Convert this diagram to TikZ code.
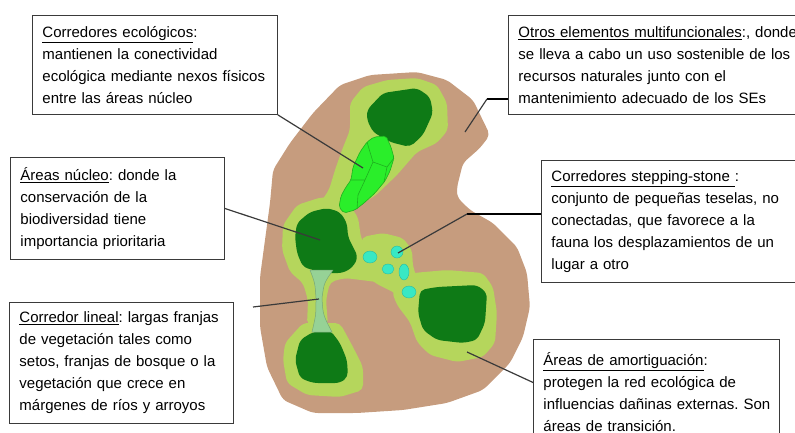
\documentclass[tikz,border=0pt]{standalone}
\usepackage{fontspec}
\setmainfont{Liberation Sans}
\frenchspacing

\definecolor{suelo}{HTML}{C69C7E}
\definecolor{amortig}{HTML}{B5D65C}
\definecolor{nucleo}{HTML}{0E7A16}
\definecolor{corredor}{HTML}{2AEE2A}
\definecolor{celda}{HTML}{1FB01F}
\definecolor{lineal}{HTML}{96D296}
\definecolor{piedra}{HTML}{38E8C4}
\definecolor{marco}{HTML}{3A3A3A}

\begin{document}
\begin{tikzpicture}[x=1pt,y=-1pt,
    infobox/.style={draw=marco,line width=0.9pt,fill=white,anchor=north west,
        align=left,inner xsep=10pt,inner ysep=0pt,
        font=\fontsize{15}{22}\selectfont},
    leader/.style={marco,line width=1.2pt},
    knee/.style={black,line width=2.6pt},
    patch/.style={rounded corners=5pt}]
    \useasboundingbox (0,0) rectangle (795,432);

    % Landscape outline
    \fill[suelo,patch]
        (340,85) -- (370,75) -- (417,72) -- (447,80) -- (473,100) -- (490,135)
        -- (480,148) -- (463,163) -- (457,187) -- (457,197) -- (470,210)
        -- (493,223) -- (517,247) -- (527,273) -- (530,307) -- (523,337)
        -- (510,363) -- (483,390) -- (447,403) -- (403,410) -- (357,413)
        -- (313,413) -- (283,400) -- (267,367) -- (260,327) -- (260,277)
        -- (265,240) -- (270,203) -- (273,170) -- (290,143) -- (313,113) -- cycle;

    % Buffer zones
    \fill[amortig,patch]
        (350,103) -- (363,87) -- (387,80) -- (417,78) -- (437,85) -- (447,103)
        -- (448,130) -- (437,143) -- (417,152) -- (410,160) -- (397,175)
        -- (375,196) -- (355,207) -- (343,214) -- (320,214) -- (307,210)
        -- (320,203) -- (329,190) -- (335,170) -- (342,150) -- (350,130) -- cycle;
    \fill[amortig,patch]
        (283,225) -- (297,205) -- (322,197) -- (347,202) -- (358,217)
        -- (361,238) -- (368,252) -- (372,262) -- (390,270) -- (395,285)
        -- (385,283) -- (345,278) -- (330,282) -- (326,300) -- (328,325)
        -- (307,325) -- (308,300) -- (303,283) -- (290,272) -- (282,250) -- cycle;
    \fill[amortig,patch]
        (285,343) -- (303,323) -- (340,323) -- (353,347) -- (363,367)
        -- (363,390) -- (340,397) -- (307,395) -- (287,383) -- (283,360) -- cycle;
    \fill[amortig,patch]
        (362,237) -- (383,233) -- (403,238) -- (412,250) -- (413,267)
        -- (418,280) -- (425,292) -- (405,305) -- (395,293) -- (375,283)
        -- (366,275) -- (360,250) -- cycle;
    \fill[amortig,patch]
        (413,273) -- (447,270) -- (483,273) -- (493,287) -- (497,313)
        -- (495,343) -- (483,357) -- (457,362) -- (430,355) -- (417,342)
        -- (410,322) -- (397,305) -- (392,292) -- (400,280) -- cycle;

    % Core areas
    \fill[nucleo,patch]
        (367,110) -- (383,93) -- (417,88) -- (430,97) -- (433,113) -- (423,135)
        -- (410,147) -- (390,142) -- (373,132) -- (367,120) -- cycle;
    \fill[nucleo,patch]
        (297,223) -- (310,212) -- (327,208) -- (340,212) -- (347,223)
        -- (348,237) -- (353,247) -- (358,257) -- (353,267) -- (343,273)
        -- (323,273) -- (303,267) -- (297,253) -- (295,237) -- cycle;
    \fill[nucleo,patch]
        (300,340) -- (313,332) -- (330,330) -- (340,343) -- (347,360)
        -- (348,377) -- (340,383) -- (313,383) -- (300,378) -- (295,360) -- cycle;
    \fill[nucleo,patch]
        (420,290) -- (437,287) -- (477,285) -- (487,293) -- (485,323)
        -- (477,340) -- (463,343) -- (437,340) -- (423,330) -- (418,313) -- cycle;

    % Ecological corridor made of cells
    \filldraw[fill=corredor,draw=celda,line width=0.6pt,rounded corners=2pt]
        (374,137) -- (386,136) -- (391,147) -- (394,158) -- (390,171)
        -- (385,181) -- (375,193) -- (364,203) -- (355,210) -- (344,213)
        -- (339,207) -- (341,196) -- (346,187) -- (351,180) -- (353,167)
        -- (360,152) -- (367,142) -- cycle;
    \draw[celda,line width=0.6pt]
        (367,142) -- (373,162) -- (387,167) -- (394,158)
        (373,162) -- (365,180) -- (358,195) -- (357,209)
        (365,180) -- (351,180)
        (387,167) -- (384,182);

    % Linear corridor
    \filldraw[fill=lineal,draw=lineal!80!black,line width=0.5pt]
        (310,270) -- (333,270) .. controls (324,283) .. (322,298)
        .. controls (323,315) .. (332,332) -- (312,332)
        .. controls (316,315) .. (316,298) .. controls (315,283) .. (310,270) -- cycle;

    % Stepping stones
    \foreach \px/\py/\rx/\ry in {370/257/7/6, 397/252/6/6, 388/269/6/5,
                                 404/272/5/8, 409/292/7/6}
        \filldraw[fill=piedra,draw=piedra!80!black,line width=0.4pt]
            (\px,\py) ellipse[x radius=\rx,y radius=\ry];

    % Text boxes
    \node[infobox,text width=225pt,minimum height=99pt] (ecol) at (32,15)
        {\underline{Corredores ecológicos}:\\ mantienen la conectividad\\
         ecológica mediante nexos físicos\\ entre las áreas núcleo};
    \node[infobox,text width=290pt,minimum height=99pt] (otros) at (508,15)
        {\underline{Otros elementos multifuncionales}:, donde\\
         se lleva a cabo un uso sostenible de los\\ recursos naturales junto con el\\
         mantenimiento adecuado de los SEs};
    \node[infobox,text width=194pt,minimum height=102pt] (nucl) at (10,157)
        {\underline{Áreas núcleo}: donde la\\ conservación de la\\
         biodiversidad tiene\\ importancia prioritaria};
    \node[infobox,text width=250pt,minimum height=122pt] (stepping) at (541,160)
        {\underline{Corredores stepping-stone\ }:\\ conjunto de pequeñas teselas, no\\
         conectadas, que favorece a la\\ fauna los desplazamientos de un\\ lugar a otro};
    \node[infobox,text width=204pt,minimum height=121pt] (lin) at (9,302)
        {\underline{Corredor lineal}: largas franjas\\ de vegetación tales como\\
         setos, franjas de bosque o la\\ vegetación que crece en\\
         márgenes de ríos y arroyos};
    \node[infobox,text width=226pt,minimum height=106pt] (amort) at (533,339)
        {\underline{Áreas de amortiguación}:\\ protegen la red ecológica de\\
         \mbox{influencias dañinas externas. Son}\\ áreas de transición.};

    % Pointer ends
    \coordinate (corrpt) at (363,168);
    \coordinate (otrosknee) at (487,99);
    \coordinate (otrospt) at (465,132);
    \coordinate (nuclpt) at (320,240);
    \coordinate (stepknee) at (467,214);
    \coordinate (steppt) at (398,253);
    \coordinate (lintail) at (253,307);
    \coordinate (linpt) at (319,299);
    \coordinate (amortpt) at (467,352);

    % Pointers
    \draw[leader] (ecol.south east) -- (corrpt);
    \draw[knee] (otros.west |- otrosknee) -- (otrosknee);
    \draw[leader] (otrosknee) -- (otrospt);
    \draw[leader] (nucl.east) -- (nuclpt);
    \draw[knee] (stepping.west |- stepknee) -- (stepknee);
    \draw[leader] (stepknee) -- (steppt);
    \draw[leader] (lintail) -- (linpt);
    \draw[leader] ([yshift=10pt]amort.west) -- (amortpt);
\end{tikzpicture}
\end{document}
